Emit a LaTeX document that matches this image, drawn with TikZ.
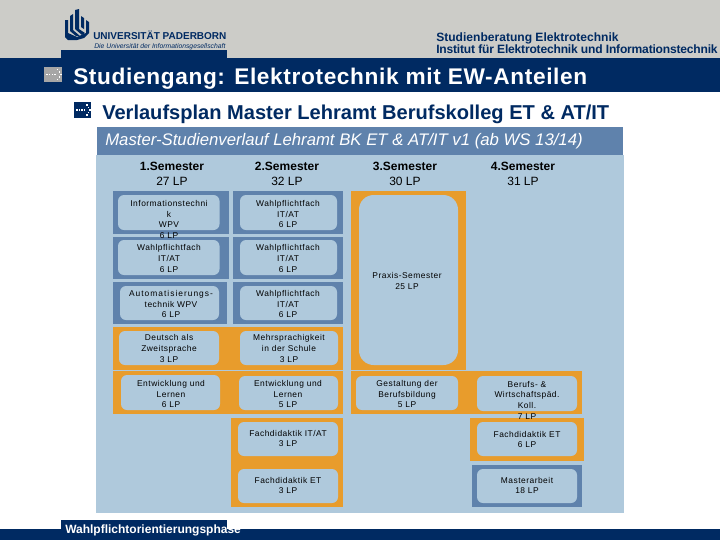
\documentclass[tikz,border=0pt]{standalone}
\usepackage{fontspec}
\setmainfont{Liberation Sans}
\definecolor{navy}{HTML}{002A62}
\definecolor{topgray}{HTML}{CCCCC8}
\definecolor{steel}{HTML}{5F82AC}
\definecolor{pale}{HTML}{AFC9DC}
\definecolor{amber}{HTML}{E89C2C}
\newfontfamily\spaced[LetterSpace=6]{Liberation Sans}
\newcommand{\boxfont}{\fontsize{6.3pt}{8pt}\selectfont\spaced}
\tikzset{
  x=0.75pt,y=-0.75pt,
  innerbox/.style={fill=pale,draw=none,rounded corners=4.5pt},
  boxtext/.style={inner sep=0pt,align=center,font=\boxfont,text=black},
  semhead/.style={inner sep=0pt,align=center,font=\fontsize{9pt}{11.2pt}\selectfont,text=black},
}
\newcommand{\ibox}[4]{\fill[innerbox] (#1,#2) rectangle (#3,#4);}
\newcommand{\icon}[5]{%
  \fill[#1] (#2,#3) rectangle (#4,#5);
  \foreach \t in {0.12,0.27,0.42,0.57}{\fill[white] ({#2+\t*(#4-#2)},{(#3+#5)/2-0.8}) rectangle ++(1.6,1.6);}
  \foreach \t/\s in {0.72/-0.32,0.82/-0.16,0.9/0,0.82/0.16,0.72/0.32}{\fill[white] ({#2+\t*(#4-#2)},{(#3+#5)/2+\s*(#5-#3)-0.7}) rectangle ++(1.4,1.4);}
}
\begin{document}
\begin{tikzpicture}
\useasboundingbox (0,0) rectangle (720,540);
\fill[white] (0,0) rectangle (720,540);
\fill[topgray] (0,0) rectangle (720,58);
\fill[navy] (0,58) rectangle (720,92);
\fill[navy] (61,50) rectangle (227,58);
\fill[navy] (0,529) rectangle (720,540);
\fill[navy] (61,520) rectangle (227,529);
% logo
\fill[navy] (65,20) -- (68,20) -- (68,33) -- (77,37) -- (86,33) -- (86,20) -- (89,22) -- (89,33) -- (84,38) -- (77,40) -- (68,40) -- (65,37) -- cycle;
\fill[navy] (70,16) -- (73,14) -- (73,30) -- (80,36) -- (76,36) -- (70,31) -- cycle;
\fill[navy] (75,10) -- (79,9) -- (79,29) -- (85,33) -- (82,35) -- (75,29) -- cycle;
\fill[navy] (81,16) -- (84,18) -- (84,29) -- (81,27) -- cycle;
\node[inner sep=0pt,anchor=base west,text=navy] (logoname) at (93,39.5) {\fontsize{7.5pt}{9pt}\selectfont\bfseries UNIVERSITÄT PADERBORN};
\node[inner sep=0pt,anchor=base west,text=navy] (logotag) at (94,48) {\fontsize{5.1pt}{6pt}\selectfont\itshape Die Universität der Informationsgesellschaft};
% top right
\node[inner sep=0pt,anchor=base west,text=navy] (dept1) at (436,41) {\fontsize{9.05pt}{11pt}\selectfont\bfseries Studienberatung Elektrotechnik};
\node[inner sep=0pt,anchor=base west,text=navy] (dept2) at (436,53) {\fontsize{9.05pt}{11pt}\selectfont\addfontfeature{LetterSpace=-1.6}\bfseries Institut für Elektrotechnik und Informationstechnik};
% titles
\icon{gray!70}{44}{67}{62}{82}
\node[inner sep=0pt,anchor=base west,text=white] (title) at (73,84) {\fontsize{17pt}{20pt}\selectfont\addfontfeature{LetterSpace=2.8}\bfseries Studiengang: Elektrotechnik mit EW-Anteilen};
\icon{navy}{74}{102}{91}{118}
\node[inner sep=0pt,anchor=base west,text=navy] (subtitle) at (102,119) {\fontsize{15.05pt}{18pt}\selectfont\bfseries Verlaufsplan Master Lehramt Berufskolleg ET \& AT/IT};
% panel
\fill[pale] (96,155) rectangle (624,513);
\fill[steel] (97,127) rectangle (623,155);
\node[inner sep=0pt,anchor=base west,text=white] (header) at (105,145) {\fontsize{12.55pt}{14pt}\selectfont\itshape Master-Studienverlauf Lehramt BK ET \& AT/IT v1 (ab WS 13/14)};
% semester heads
\node[semhead] (s1) at (172,174) {\textbf{1.Semester}\\27 LP};
\node[semhead] (s2) at (287,174) {\textbf{2.Semester}\\32 LP};
\node[semhead] (s3) at (405,174) {\textbf{3.Semester}\\30 LP};
\node[semhead] (s4) at (523,174) {\textbf{4.Semester}\\31 LP};
% outer frames
\fill[steel] (113,191) rectangle (229,234);
\fill[steel] (233,191) rectangle (343,234);
\fill[steel] (113,237) rectangle (229,279);
\fill[steel] (233,237) rectangle (343,279);
\fill[steel] (113,282) rectangle (227,324);
\fill[steel] (233,282) rectangle (343,324);
\fill[amber] (113,327) rectangle (343,370);
\fill[amber] (113,371) rectangle (343,414);
\fill[amber] (231,418) rectangle (343,507);
\fill[amber] (351,191) rectangle (466,370);
\fill[amber] (351,371) rectangle (582,414);
\fill[amber] (470,418) rectangle (584,461);
\fill[steel] (472,465) rectangle (582,507);
% inner boxes
\ibox{118}{195}{219.5}{230}
\ibox{240}{195}{337}{230}
\ibox{118}{240}{219.5}{275}
\ibox{240}{240}{337}{275}
\ibox{120}{286}{219}{320}
\ibox{240}{286}{337}{320}
\ibox{119}{331}{219}{365}
\ibox{240}{331}{338}{365}
\ibox{121}{375}{220}{410}
\ibox{239}{376}{338}{410}
\ibox{238}{422}{338}{456}
\ibox{238}{469}{338}{503}
\fill[pale,rounded corners=11pt] (359,195) rectangle (458,365);
\ibox{356}{376}{458}{410}
\ibox{477}{376}{577}{411}
\ibox{477}{422}{577}{456}
\ibox{477}{469}{577}{503}
% texts
\node[boxtext] (t1) at (169,219.5) {Informationstechni\\k\\WPV\\6 LP};
\node[boxtext] (t2) at (169,258.5) {Wahlpflichtfach\\IT/AT\\6 LP};
\node[boxtext] (t3) at (171,304) {{\addfontfeature{LetterSpace=12}Automatisierungs-}\\technik WPV\\6 LP};
\node[boxtext] (t4) at (288,214) {Wahlpflichtfach\\IT/AT\\6 LP};
\node[boxtext] (t5) at (288,258.5) {Wahlpflichtfach\\IT/AT\\6 LP};
\node[boxtext] (t6) at (288,304) {Wahlpflichtfach\\IT/AT\\6 LP};
\node[boxtext] (t7) at (169,348.5) {Deutsch als\\Zweitsprache\\3 LP};
\node[boxtext] (t8) at (289,348.5) {Mehrsprachigkeit\\in der Schule\\3 LP};
\node[boxtext] (t9) at (171,394) {Entwicklung und\\Lernen\\6 LP};
\node[boxtext] (t10) at (288,394) {Entwicklung und\\Lernen\\5 LP};
\node[boxtext] (t11) at (288,438.5) {Fachdidaktik IT/AT\\3 LP};
\node[boxtext] (t12) at (288,485.5) {Fachdidaktik ET\\3 LP};
\node[boxtext] (t13) at (407,281) {Praxis-Semester\\25 LP};
\node[boxtext] (t14) at (407,394) {Gestaltung der\\Berufsbildung\\5 LP};
\node[boxtext] (t15) at (527,400) {Berufs- \&\\Wirtschaftspäd.\\Koll.\\7 LP};
\node[boxtext] (t16) at (527,439.5) {Fachdidaktik ET\\6 LP};
\node[boxtext] (t17) at (527,485.5) {Masterarbeit\\18 LP};
% bottom tab
\node[inner sep=0pt,anchor=base west,text=white] (phase) at (65,533) {\fontsize{9pt}{10pt}\selectfont\bfseries Wahlpflichtorientierungsphase};
\end{tikzpicture}
\end{document}
